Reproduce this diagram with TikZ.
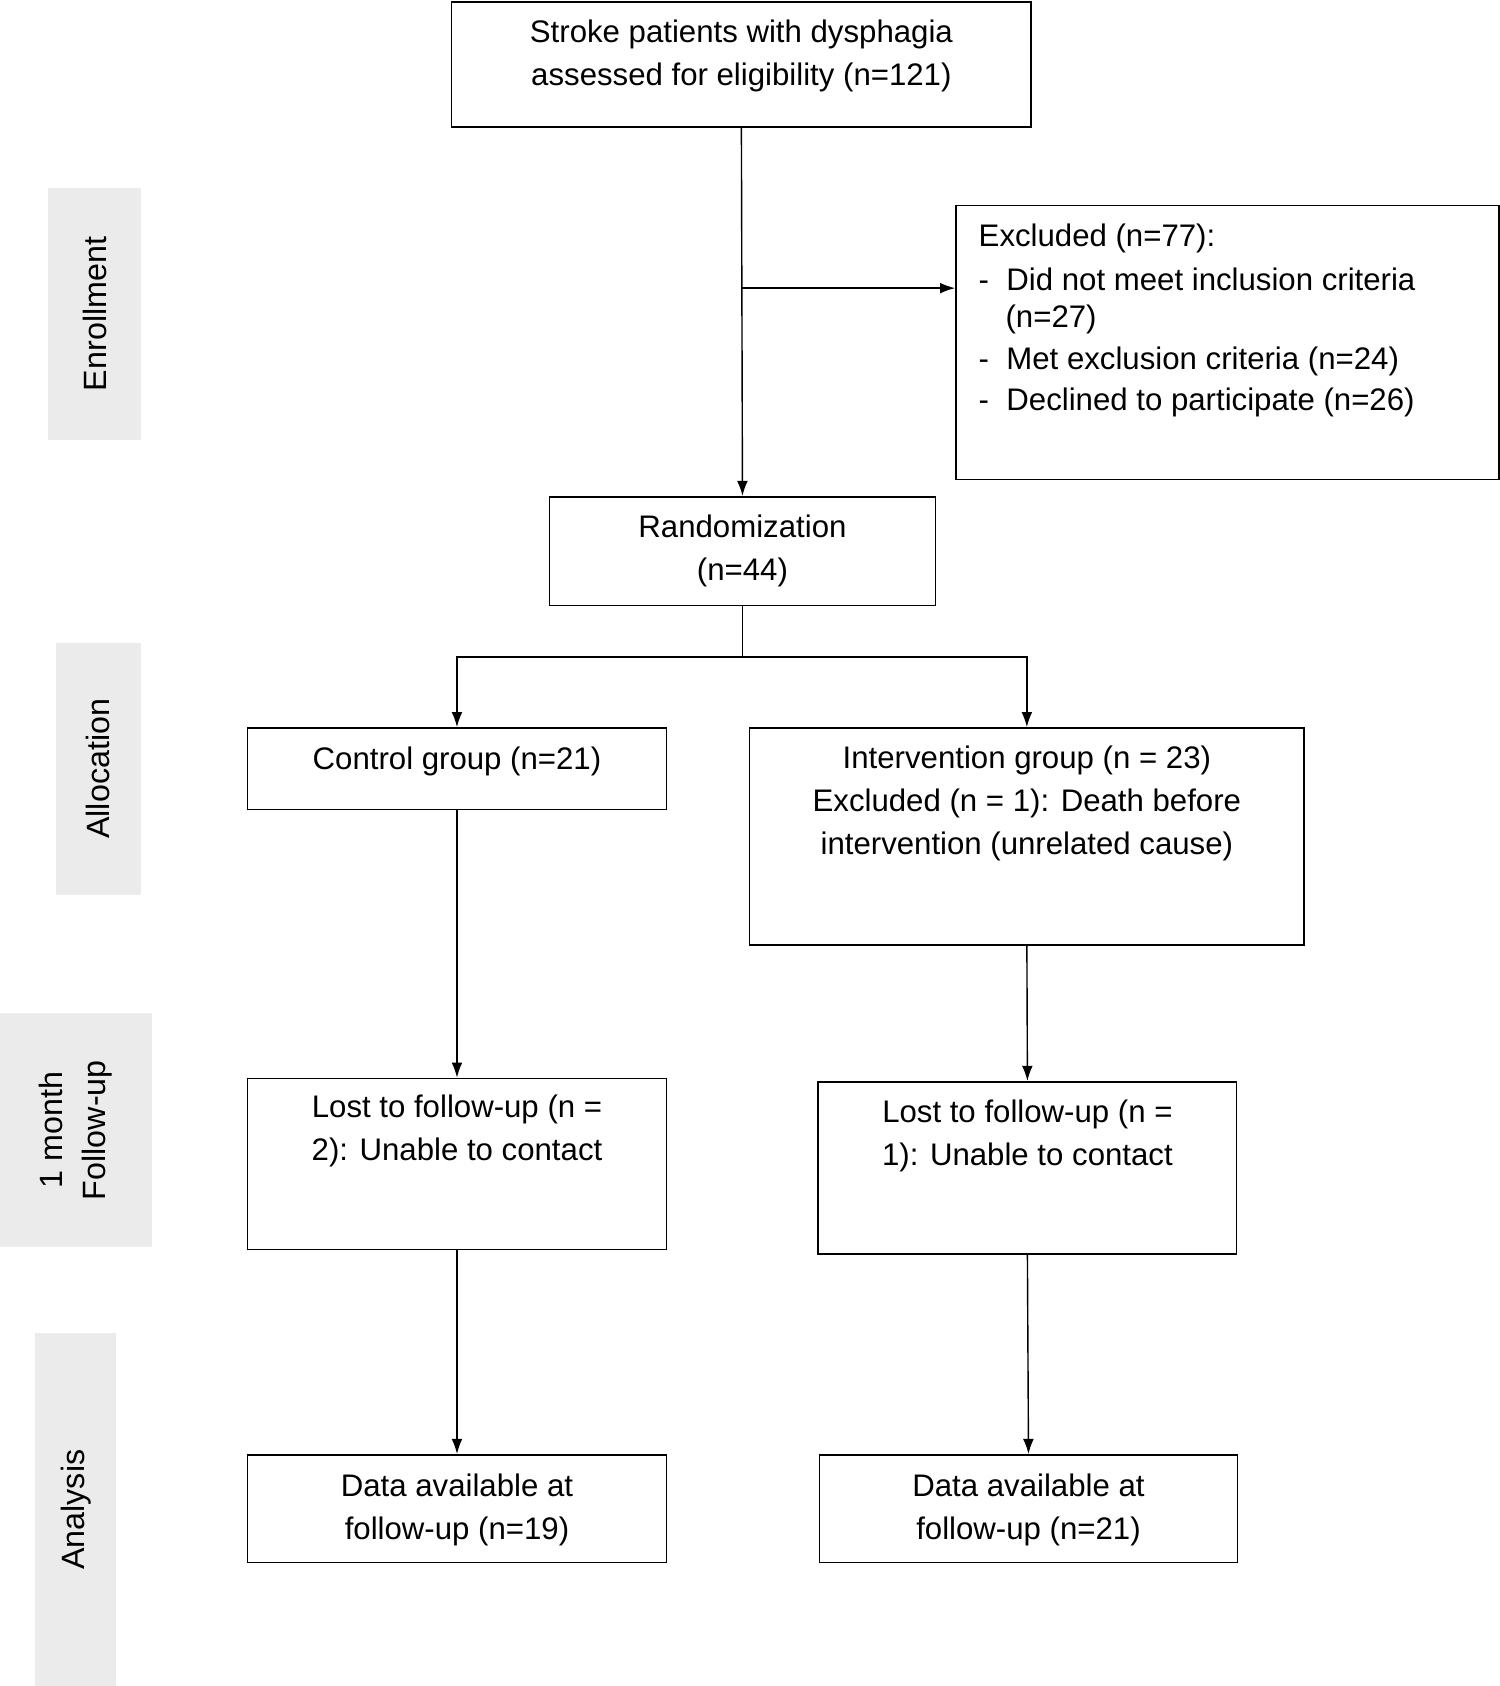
\documentclass[tikz,border=0pt]{standalone}
\usepackage{fontspec}
\setmainfont{Liberation Sans}
\usetikzlibrary{arrows.meta}
\begin{document}
\begin{tikzpicture}[x=1pt,y=1pt,
  box/.style={draw,line width=1.5pt,inner sep=0pt},
  txt/.style={font=\fontsize{29}{40}\selectfont,align=center,inner sep=0pt},
  side/.style={fill=black!8,inner sep=0pt},
  lab/.style={font=\fontsize{30}{40}\selectfont,rotate=90,align=center,inner sep=0pt},
  con/.style={line width=1.3pt},
  arr/.style={con,-{Latex[length=14pt,width=10pt]}}]
\useasboundingbox (0,0) rectangle (1395,1568);
% side labels
\node[side,minimum width=86,minimum height=235] (s1) at (88,1276) {};
\node[lab] (l1) at (s1) {Enrollment};
\node[side,minimum width=79,minimum height=234] (s2) at (91.5,853) {};
\node[lab] (l2) at (s2) {Allocation};
\node[side,minimum width=141,minimum height=218] (s3) at (70.5,517) {};
\node[lab] (l3) at (s3) {1 month\\Follow-up};
\node[side,minimum width=75,minimum height=328] (s4) at (70.5,164) {};
\node[lab] (l4) at (s4) {Analysis};
% boxes
\node[box,minimum width=539,minimum height=116] (top) at (689.5,1508) {};
\node[txt] at (689.5,1516) {Stroke patients with dysphagia\\assessed for eligibility (n=121)};
\node[box,minimum width=505,minimum height=255] (ex) at (1141.5,1249.5) {};
\node[txt,anchor=west] at (910,1346) {Excluded (n=77):};
\node[txt,anchor=west] at (910,1308) {-\ \ Did not meet inclusion criteria};
\node[txt,anchor=west] at (935,1271) {(n=27)};
\node[txt,anchor=west] at (910,1232) {-\ \ Met exclusion criteria (n=24)};
\node[txt,anchor=west] at (910,1194) {-\ \ Declined to participate (n=26)};
\node[box,minimum width=359,minimum height=101] (rand) at (690.5,1055.5) {};
\node[txt] at (690.5,1056) {Randomization\\(n=44)};
\node[box,minimum width=390,minimum height=76] (ctrl) at (425,853) {};
\node[txt] at (425,860) {Control group (n=21)};
\node[box,minimum width=516,minimum height=202] (int) at (955,790) {};
\node[txt] at (955,821) {Intervention group (n = 23)\\Excluded (n = 1): Death before\\intervention (unrelated cause)};
\node[box,minimum width=390,minimum height=159] (lostL) at (425,485.5) {};
\node[txt] at (425,516) {Lost to follow-up (n =\\2): Unable to contact};
\node[box,minimum width=389,minimum height=160] (lostR) at (955.5,482) {};
\node[txt] at (955.5,512) {Lost to follow-up (n =\\1): Unable to contact};
\node[box,minimum width=390,minimum height=100] (dataL) at (425,165) {};
\node[txt] at (425,164) {Data available at\\follow-up (n=19)};
\node[box,minimum width=389,minimum height=100] (dataR) at (956.5,165) {};
\node[txt] at (956.5,164) {Data available at\\follow-up (n=21)};
% connectors
\draw[arr] (top.south) -- (rand.north);
\coordinate (br) at (689.5,1300);
\draw[arr] (br) -- (ex.west|-br);
\coordinate (sp) at (690.5,957);
\draw[con] (rand.south) -- (sp);
\draw[arr] (sp) -| (ctrl.north);
\draw[arr] (sp) -| (int.north);
\draw[arr] (ctrl.south) -- (lostL.north);
\draw[arr] (int.south) -- (lostR.north);
\draw[arr] (lostL.south) -- (dataL.north);
\draw[arr] (lostR.south) -- (dataR.north);
\end{tikzpicture}
\end{document}
